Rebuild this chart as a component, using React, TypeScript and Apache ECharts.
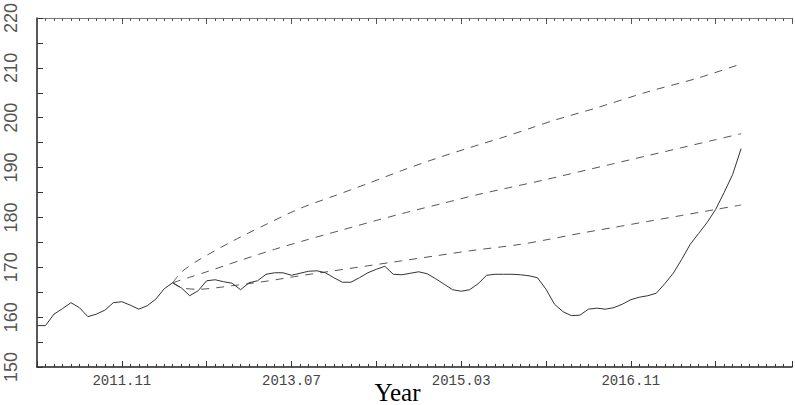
import React, { useEffect, useRef } from "react";
import * as echarts from "echarts";

// Monthly series, starting 2011.01 (index 0)
const START_YEAR = 2011;
const START_MONTH = 1;
const AXIS_MONTHS = 89; // axis runs from 2011.01 to 2018.06

const actual = [
  158.3, 158.3, 160.6, 161.7, 162.9, 161.9, 160.1, 160.6, 161.4, 162.9, 163.1, 162.4,
  161.6, 162.3, 163.6, 165.7, 166.9, 165.9, 164.3, 165.3, 167.3, 167.5, 167.1, 166.8,
  165.5, 166.9, 167.3, 168.6, 168.9, 168.9, 168.4, 168.8, 169.2, 169.3, 168.9, 167.9,
  167.0, 167.0, 167.9, 168.9, 169.6, 170.2, 168.6, 168.5, 168.8, 169.1, 168.7, 167.7,
  166.6, 165.5, 165.2, 165.5, 166.7, 168.4, 168.6, 168.6, 168.6, 168.5, 168.3, 167.9,
  165.6, 162.6, 161.1, 160.3, 160.4, 161.6, 161.8, 161.6, 161.9, 162.6, 163.5, 164.0,
  164.3, 164.8, 166.7, 168.8, 171.6, 174.6, 176.8, 179.0, 181.6, 185.0, 188.6, 193.8,
];

const upperMonths = [16, 17, 19, 23, 27, 31, 35, 39, 43, 47, 51, 55, 58, 61, 66, 72, 78, 83];
const upperValues = [166.9, 169.0, 171.4, 175.2, 178.6, 181.8, 184.3, 186.8, 189.4, 191.8, 194.0, 196.1, 197.8, 199.5, 202.0, 205.2, 208.0, 210.8];

const middleMonths = [16, 18, 20, 24, 28, 32, 36, 40, 44, 48, 52, 56, 60, 64, 68, 72, 76, 80, 83];
const middleValues = [166.9, 168.0, 169.1, 171.4, 173.6, 175.6, 177.5, 179.4, 181.2, 182.9, 184.6, 186.1, 187.6, 189.2, 190.8, 192.4, 194.0, 195.6, 196.8];

const lowerMonths = [16, 17, 19, 23, 27, 31, 35, 39, 43, 47, 51, 57, 60, 64, 68, 72, 76, 80, 83];
const lowerValues = [166.9, 165.9, 165.6, 166.3, 167.2, 168.3, 169.3, 170.3, 171.3, 172.3, 173.3, 174.6, 175.5, 176.8, 178.0, 179.2, 180.4, 181.6, 182.5];

const xTickLabels = ["2011.11", "2013.07", "2015.03", "2016.11"];
const xTitle = "Year";
const Y_MIN = 150;
const Y_MAX = 220;

function labelToIndex(s: string): number {
  const [y, m] = s.split(".").map(Number);
  return (y - START_YEAR) * 12 + (m - START_MONTH);
}

const labelByIndex: Record<number, string> = {};
xTickLabels.forEach((l) => {
  labelByIndex[labelToIndex(l)] = l;
});

function pairs(months: number[], values: number[]) {
  return months.map((m, i) => [m, values[i]]);
}

export default function App() {
  const ref = useRef<HTMLDivElement>(null);

  useEffect(() => {
    if (!ref.current) return;
    const chart = echarts.init(ref.current, undefined, { renderer: "svg" });

    const baseX = {
      type: "value" as const,
      min: 0,
      max: AXIS_MONTHS,
      splitLine: { show: false },
    };

    const dashed = (data: number[][]) => ({
      type: "line",
      data,
      xAxisIndex: 0,
      yAxisIndex: 0,
      symbol: "none",
      smooth: 0.3,
      lineStyle: { color: "#555", width: 1, type: [8, 7] },
      z: 2,
    });

    chart.setOption({
      animation: false,
      backgroundColor: "#fff",
      grid: { left: 37, right: 0, top: 18, bottom: 38, containLabel: false },
      graphic: [
        {
          type: "text",
          x: 397.5,
          y: 392,
          style: {
            text: xTitle,
            fontFamily: "Liberation Serif",
            fontSize: 25,
            fill: "#000",
            textAlign: "center",
            textVerticalAlign: "middle",
          },
        },
      ],
      xAxis: [
        {
          ...baseX,
          position: "bottom",
          interval: 1,
          axisLine: { show: true, lineStyle: { color: "#222", width: 1.5 } },
          axisTick: { show: true, inside: true, length: 3, lineStyle: { color: "#333" } },
          axisLabel: {
            show: true,
            margin: 7,
            color: "#444",
            fontFamily: "Liberation Mono",
            fontSize: 14,
            formatter: (v: number) => labelByIndex[Math.round(v)] || "",
          },
        },
        {
          ...baseX,
          position: "bottom",
          interval: 10,
          axisLine: { show: false },
          axisTick: { show: true, inside: true, length: 6, lineStyle: { color: "#333" } },
          axisLabel: { show: false },
        },
        {
          ...baseX,
          position: "top",
          interval: 1,
          axisLine: { show: true, lineStyle: { color: "#777", width: 1.2 } },
          axisTick: { show: true, inside: true, length: 3, lineStyle: { color: "#555" } },
          axisLabel: { show: false },
        },
        {
          ...baseX,
          position: "top",
          interval: 10,
          axisLine: { show: false },
          axisTick: { show: true, inside: true, length: 6, lineStyle: { color: "#555" } },
          axisLabel: { show: false },
        },
      ],
      yAxis: [
        {
          type: "value",
          min: Y_MIN,
          max: Y_MAX,
          interval: 5,
          splitLine: { show: false },
          axisLine: { show: true, lineStyle: { color: "#222", width: 1.5 } },
          axisTick: { show: true, inside: true, length: 6, lineStyle: { color: "#333" } },
          axisLabel: {
            show: true,
            rotate: 90,
            margin: 17,
            color: "#555",
            fontFamily: "Liberation Sans",
            fontSize: 18,
            formatter: (v: number) => (v % 10 === 0 ? String(v) : ""),
          },
        },
      ],
      series: [
        dashed(pairs(upperMonths, upperValues)),
        dashed(pairs(middleMonths, middleValues)),
        dashed(pairs(lowerMonths, lowerValues)),
        {
          type: "line",
          data: actual.map((v, i) => [i, v]),
          xAxisIndex: 0,
          yAxisIndex: 0,
          symbol: "none",
          lineStyle: { color: "#333", width: 1 },
          z: 3,
        },
      ],
    });

    return () => chart.dispose();
  }, []);

  return (
    <div
      ref={ref}
      style={{ position: "fixed", left: 0, top: 0, width: 795, height: 405, background: "#fff" }}
    />
  );
}
